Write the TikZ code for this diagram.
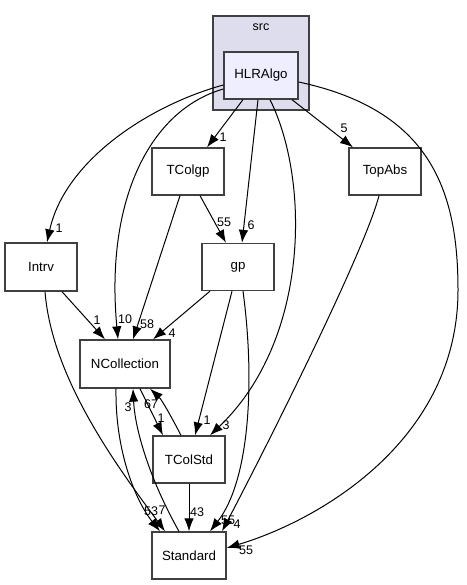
\documentclass[tikz,border=0pt]{standalone}
\usepackage{fontspec}
\setmainfont{Liberation Sans}
\usetikzlibrary{arrows.meta}
\definecolor{clusterbg}{HTML}{DDDDEE}
\definecolor{hlrbg}{HTML}{EEEEFF}
\definecolor{boxline}{HTML}{404040}
\tikzset{
  dirbox/.style={draw=boxline,line width=1.3pt,fill=white,minimum width=72pt,minimum height=47pt,inner sep=0pt,font=\fontsize{13.3}{16}\selectfont},
  srcbox/.style={draw=boxline,line width=1.3pt,fill=clusterbg,minimum width=96pt,minimum height=94pt,inner sep=0pt},
  dep/.style={line width=1pt,-{Latex[length=13pt,width=9.5pt]}},
  lbl/.style={inner sep=0pt,font=\fontsize{12.5}{14}\selectfont}
}
\begin{document}
\begin{tikzpicture}[x=1pt,y=-1pt]
\useasboundingbox (0,0) rectangle (466,585);
\node[srcbox] (src) at (261,63) {};
\node[lbl] (srclbl) at (261,27) {src};
\node[dirbox,fill=hlrbg,minimum width=74pt] (hlr) at (261,75.5) {HLRAlgo};
\node[dirbox] (tcolgp) at (188,171.5) {TColgp};
\node[dirbox] (topabs) at (385,171.5) {TopAbs};
\node[dirbox,minimum height=48pt] (intrv) at (41,267) {Intrv};
\node[dirbox] (gp) at (238,267) {gp};
\node[dirbox,minimum width=90pt,minimum height=48pt] (ncoll) at (125,364) {NCollection};
\node[dirbox] (tcolstd) at (189,459.5) {TColStd};
\node[dirbox,minimum width=74pt] (std) at (189,555.5) {Standard};

% HLRAlgo
\draw[dep] ([xshift=-18pt]hlr.south) -- ([xshift=19pt]tcolgp.north) node[lbl] at (223,137) {1};
\draw[dep] ([xshift=-3pt]hlr.south) -- ([xshift=4pt]gp.north) node[lbl] at (251,225) {6};
\draw[dep] ([xshift=31pt]hlr.south) -- ([xshift=-32pt]topabs.north) node[lbl] at (344,128) {5};
\draw[dep] ([yshift=-9.5pt]hlr.west) .. controls (150,105) and (65,160) .. ([xshift=6pt]intrv.north) node[lbl] at (59,228) {1};
\draw[dep] ([yshift=-13.5pt]hlr.west) .. controls (150,110) and (105,200) .. ([xshift=-7pt]ncoll.north) node[lbl] at (125,319) {10};
\draw[dep] ([xshift=9pt]hlr.south) .. controls (310,180) and (310,340) .. ([xshift=21pt]tcolstd.north) node[lbl] at (226,425) {3};
\draw[dep] ([yshift=-6.5pt]hlr.east) .. controls (430,110) and (458,190) .. (458,290)
  .. controls (458,440) and (320,520) .. ([yshift=7.5pt]std.east) node[lbl] at (246,550) {55};

% TColgp, TopAbs, Intrv
\draw[dep] ([xshift=-8pt]tcolgp.south) -- ([xshift=8pt]ncoll.north) node[lbl] at (147,324) {58};
\draw[dep] ([xshift=12pt]tcolgp.south) -- ([xshift=-12pt]gp.north) node[lbl] at (224,222) {55};
\draw[dep] ([xshift=-6pt]topabs.south) .. controls (365,250) and (270,440) .. ([xshift=33pt]std.north) node[lbl] at (237,524) {4};
\draw[dep] ([xshift=21pt]intrv.south) -- ([xshift=-20pt]ncoll.north) node[lbl] at (97,320) {1};
\draw[dep] ([xshift=4pt]intrv.south) .. controls (52,380) and (120,470) .. ([xshift=-24pt]std.north) node[lbl] at (151,511) {53};

% gp
\draw[dep] ([xshift=-28pt]gp.south) -- ([xshift=28pt]ncoll.north) node[lbl] at (172,333) {4};
\draw[dep] ([xshift=-6pt]gp.south) -- ([xshift=6pt]tcolstd.north) node[lbl] at (207,420) {1};
\draw[dep] ([xshift=5pt]gp.south) .. controls (255,380) and (250,480) .. ([xshift=21pt]std.north) node[lbl] at (228,520) {55};

% NCollection, TColStd
\draw[dep] ([xshift=15pt]ncoll.south) -- ([xshift=-26pt]tcolstd.north) node[lbl] at (161,418) {1};
\draw[dep] ([xshift=-8pt]tcolstd.north) .. controls (172,418) and (162,400) .. ([xshift=25pt]ncoll.south) node[lbl] at (151,404) {67};
\draw[dep] (tcolstd.south) -- (std.north) node[lbl] at (197,512) {43};
\draw[dep] ([xshift=-9pt]ncoll.south) .. controls (115,450) and (135,500) .. ([xshift=-29pt]std.north) node[lbl] at (162,510) {7};
\draw[dep] ([xshift=-10pt]std.north) .. controls (150,480) and (135,430) .. ([xshift=8pt]ncoll.south) node[lbl] at (128,407) {3};
\end{tikzpicture}
\end{document}
